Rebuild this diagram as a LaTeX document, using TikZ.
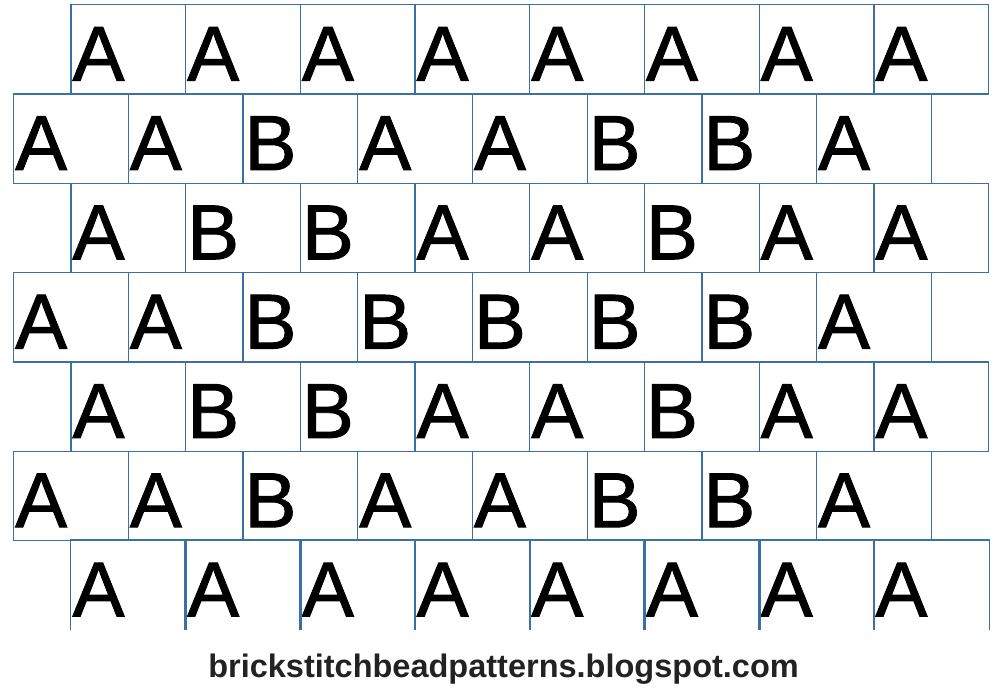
\documentclass[tikz,border=0pt]{standalone}
\usepackage{fontspec}
\setmainfont{Liberation Sans}
\newfontfamily\cellfont{Liberation Sans}[FakeBold=1.2]
\definecolor{gridblue}{HTML}{3C6FA3}
\definecolor{footgray}{HTML}{222222}
\tikzset{bd/.style = {rectangle, draw=gridblue, line width=1.3pt, minimum width=114.7pt, minimum height=89.3pt,
                      inner xsep=1.5pt, inner ysep=0pt, text width=111.7pt, align=left,
                      text height=62.7pt, text depth=0pt, font=\cellfont\fontsize{78}{78}\selectfont},
         bo/.style = {bd, draw=none}}

\begin{document}
\begin{tikzpicture}[x=114.7pt, y=-89.3pt]
    \useasboundingbox ([xshift=-13.65pt, yshift=4.7pt]0,0) rectangle ++(1000pt,-700pt);
    \node[bd] (a1) at (1,0.5) {A}; \node[bd] (a2) at (2,0.5) {A}; \node[bd] (a3) at (3,0.5) {A}; \node[bd] (a4) at (4,0.5) {A};
    \node[bd] (a5) at (5,0.5) {A}; \node[bd] (a6) at (6,0.5) {A}; \node[bd] (a7) at (7,0.5) {A}; \node[bd] (a8) at (8,0.5) {A};
    \node[bd] (b1) at (0.5,1.5) {A}; \node[bd] (b2) at (1.5,1.5) {A}; \node[bd] (b3) at (2.5,1.5) {B}; \node[bd] (b4) at (3.5,1.5) {A};
    \node[bd] (b5) at (4.5,1.5) {A}; \node[bd] (b6) at (5.5,1.5) {B}; \node[bd] (b7) at (6.5,1.5) {B}; \node[bd] (b8) at (7.5,1.5) {A};
    \node[bd] (c1) at (1,2.5) {A}; \node[bd] (c2) at (2,2.5) {B}; \node[bd] (c3) at (3,2.5) {B}; \node[bd] (c4) at (4,2.5) {A};
    \node[bd] (c5) at (5,2.5) {A}; \node[bd] (c6) at (6,2.5) {B}; \node[bd] (c7) at (7,2.5) {A}; \node[bd] (c8) at (8,2.5) {A};
    \node[bd] (d1) at (0.5,3.5) {A}; \node[bd] (d2) at (1.5,3.5) {A}; \node[bd] (d3) at (2.5,3.5) {B}; \node[bd] (d4) at (3.5,3.5) {B};
    \node[bd] (d5) at (4.5,3.5) {B}; \node[bd] (d6) at (5.5,3.5) {B}; \node[bd] (d7) at (6.5,3.5) {B}; \node[bd] (d8) at (7.5,3.5) {A};
    \node[bd] (e1) at (1,4.5) {A}; \node[bd] (e2) at (2,4.5) {B}; \node[bd] (e3) at (3,4.5) {B}; \node[bd] (e4) at (4,4.5) {A};
    \node[bd] (e5) at (5,4.5) {A}; \node[bd] (e6) at (6,4.5) {B}; \node[bd] (e7) at (7,4.5) {A}; \node[bd] (e8) at (8,4.5) {A};
    \node[bd] (f1) at (0.5,5.5) {A}; \node[bd] (f2) at (1.5,5.5) {A}; \node[bd] (f3) at (2.5,5.5) {B}; \node[bd] (f4) at (3.5,5.5) {A};
    \node[bd] (f5) at (4.5,5.5) {A}; \node[bd] (f6) at (5.5,5.5) {B}; \node[bd] (f7) at (6.5,5.5) {B}; \node[bd] (f8) at (7.5,5.5) {A};
    \node[bo] (g1) at (1,6.5) {A}; \node[bo] (g2) at (2,6.5) {A}; \node[bo] (g3) at (3,6.5) {A}; \node[bo] (g4) at (4,6.5) {A};
    \node[bo] (g5) at (5,6.5) {A}; \node[bo] (g6) at (6,6.5) {A}; \node[bo] (g7) at (7,6.5) {A}; \node[bo] (g8) at (8,6.5) {A};
    % last row is open at the bottom
    \draw[gridblue, line width=1.3pt] (g1.south west) |- (g1.north east) -- (g1.south east);
    \draw[gridblue, line width=1.3pt] (g2.south west) |- (g2.north east) -- (g2.south east);
    \draw[gridblue, line width=1.3pt] (g3.south west) |- (g3.north east) -- (g3.south east);
    \draw[gridblue, line width=1.3pt] (g4.south west) |- (g4.north east) -- (g4.south east);
    \draw[gridblue, line width=1.3pt] (g5.south west) |- (g5.north east) -- (g5.south east);
    \draw[gridblue, line width=1.3pt] (g6.south west) |- (g6.north east) -- (g6.south east);
    \draw[gridblue, line width=1.3pt] (g7.south west) |- (g7.north east) -- (g7.south east);
    \draw[gridblue, line width=1.3pt] (g8.south west) |- (g8.north east) -- (g8.south east);
    \node[anchor=base, text=footgray, inner sep=0pt, font=\bfseries\fontsize{32.5}{32.5}\selectfont] (url) at (4.271,7.529) {brickstitchbeadpatterns.blogspot.com};
\end{tikzpicture}
\end{document}
